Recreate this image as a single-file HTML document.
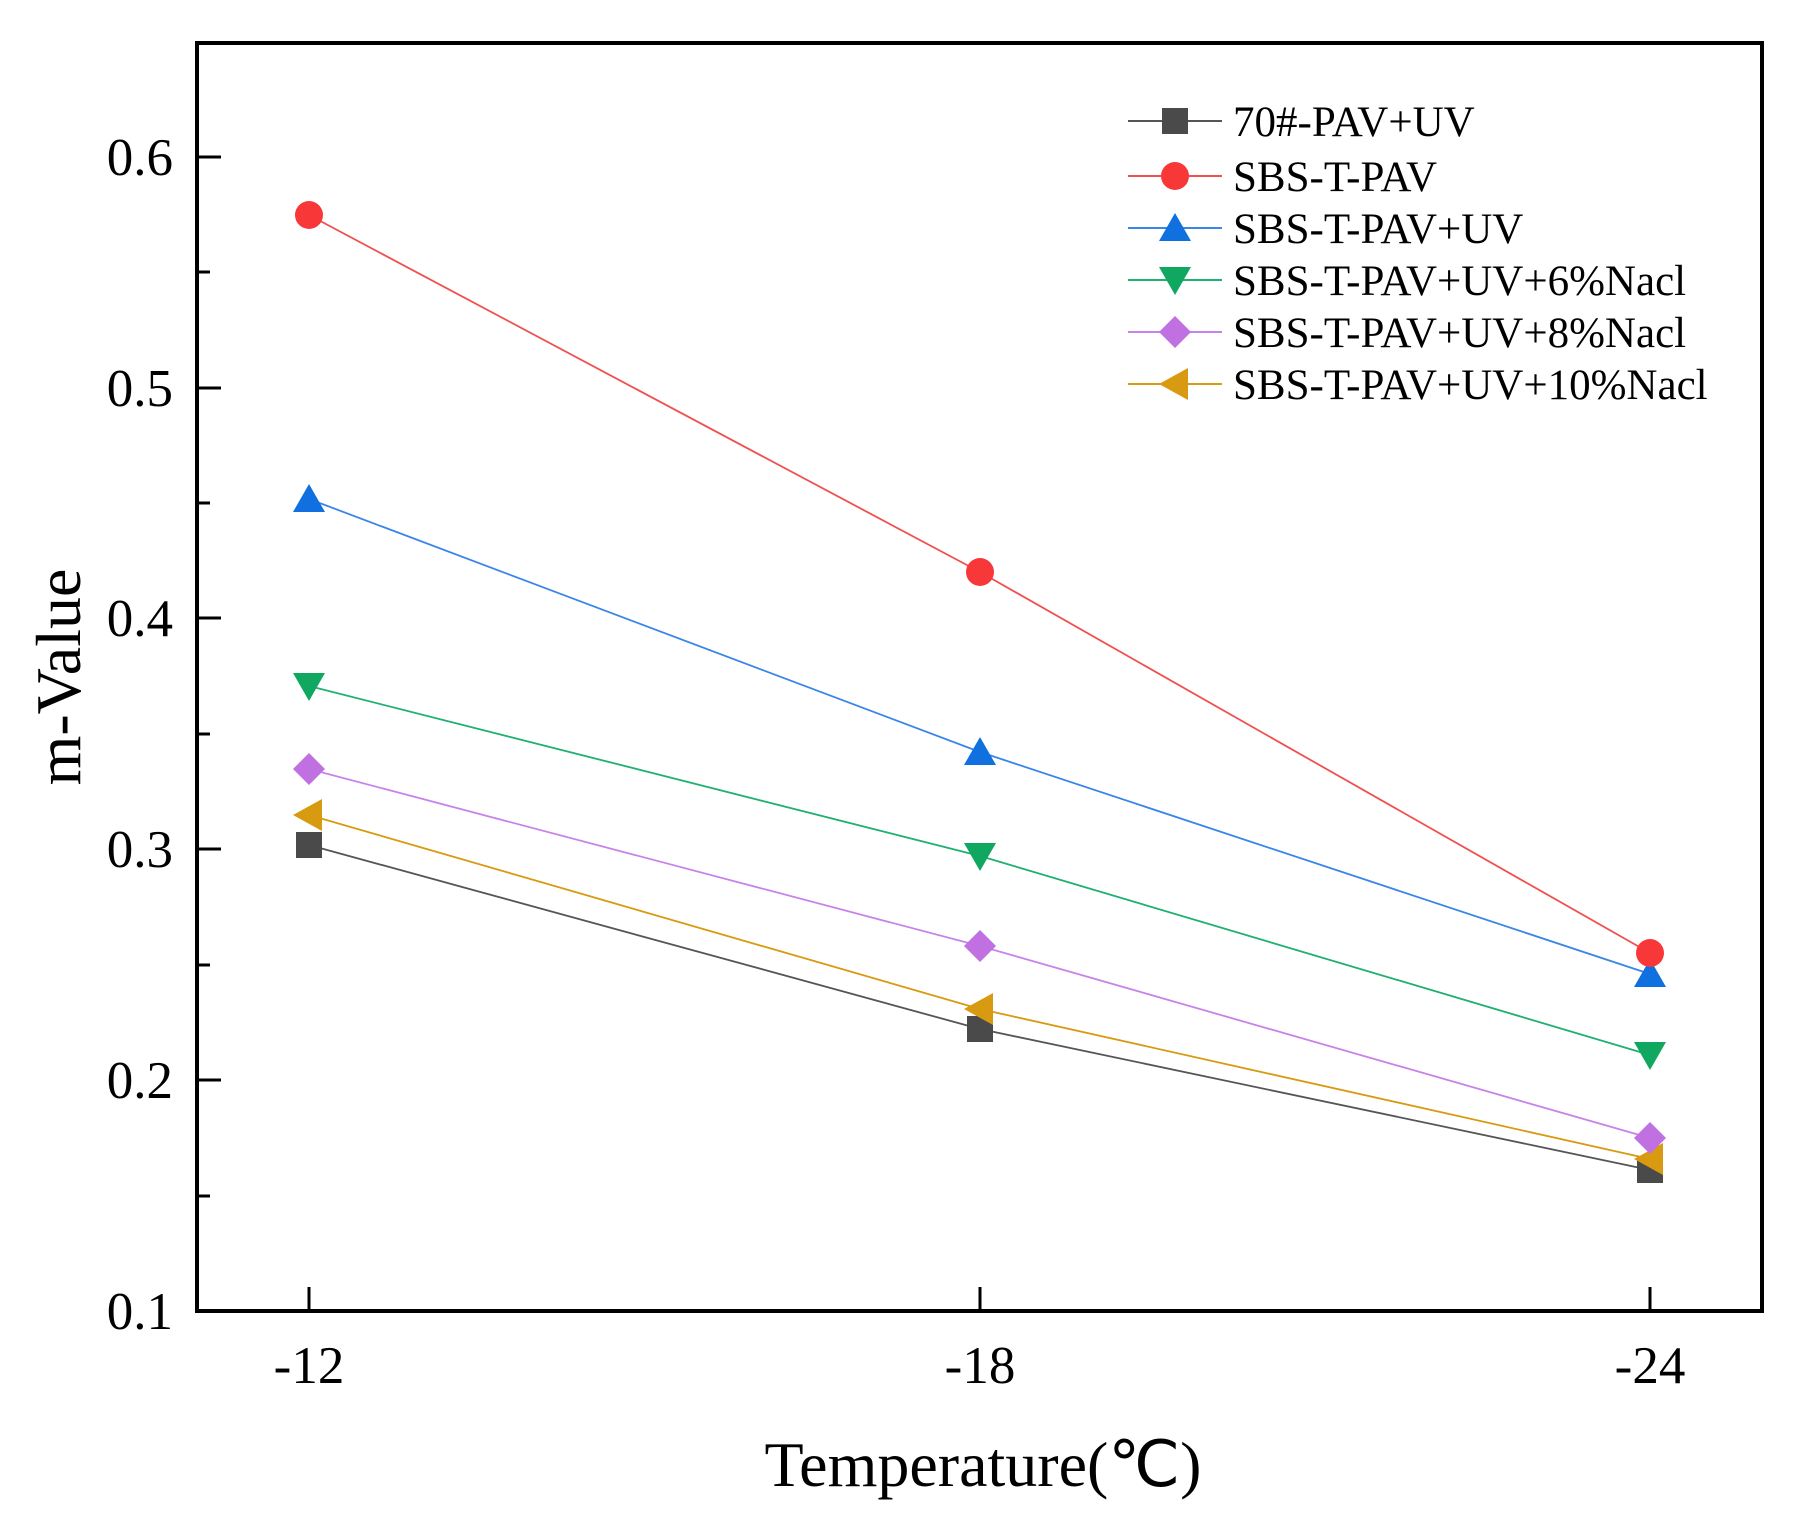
<!DOCTYPE html>
<html><head><meta charset="utf-8"><style>body{margin:0;background:#fff}svg{display:block}</style></head><body>
<svg width="1805" height="1536" viewBox="0 0 1805 1536" xmlns="http://www.w3.org/2000/svg" font-family="Liberation Serif, serif">
<defs>
<g id="sq"><rect x="-13" y="-13" width="26" height="26"/></g>
<g id="ci"><circle r="14"/></g>
<g id="tu"><polygon points="0,-15 16,13 -16,13"/></g>
<g id="td"><polygon points="0,15 16,-13 -16,-13"/></g>
<g id="di"><polygon points="0,-16 16,0 0,16 -16,0"/></g>
<g id="tl"><polygon points="-16,0 13,-16 13,16"/></g>
</defs>
<rect x="197" y="43" width="1565" height="1268" fill="none" stroke="#000" stroke-width="4"/>
<g stroke="#000" stroke-width="3">
<line x1="197" y1="1311" x2="221" y2="1311"/><line x1="197" y1="1080" x2="221" y2="1080"/><line x1="197" y1="849" x2="221" y2="849"/><line x1="197" y1="618" x2="221" y2="618"/><line x1="197" y1="388" x2="221" y2="388"/><line x1="197" y1="157" x2="221" y2="157"/>
<line x1="197" y1="1196" x2="210" y2="1196"/><line x1="197" y1="965" x2="210" y2="965"/><line x1="197" y1="734" x2="210" y2="734"/><line x1="197" y1="503" x2="210" y2="503"/><line x1="197" y1="272" x2="210" y2="272"/>
<line x1="309" y1="1311" x2="309" y2="1287"/><line x1="980" y1="1311" x2="980" y2="1287"/><line x1="1650" y1="1311" x2="1650" y2="1287"/>
</g>
<g font-size="53" text-anchor="end">
<text x="173" y="1329">0.1</text><text x="173" y="1098">0.2</text><text x="173" y="867">0.3</text><text x="173" y="636">0.4</text><text x="173" y="406">0.5</text><text x="173" y="175">0.6</text>
</g>
<g font-size="53" text-anchor="middle">
<text x="309" y="1383">-12</text><text x="980" y="1383">-18</text><text x="1650" y="1383">-24</text>
</g>
<text x="983" y="1486" font-size="64" text-anchor="middle">Temperature(℃)</text>
<text transform="translate(80,677) rotate(-90)" font-size="64" text-anchor="middle">m-Value</text>
<g fill="none" stroke-width="1.8">
<polyline stroke="#555" points="309,845 980,1029 1650,1170"/>
<polyline stroke="#f05050" points="309,215 980,572 1650,953"/>
<polyline stroke="#3a86e8" points="309,499 980,752 1650,974"/>
<polyline stroke="#20b070" points="309,686 980,856 1650,1055"/>
<polyline stroke="#c883e8" points="309,769 980,946 1650,1138"/>
<polyline stroke="#d89a10" points="309,815 980,1009 1650,1159"/>
</g>
<g fill="#4a4a4a"><use href="#sq" x="309" y="845"/><use href="#sq" x="980" y="1029"/><use href="#sq" x="1650" y="1170"/></g>
<g fill="#d89a10"><use href="#tl" x="309" y="815"/><use href="#tl" x="980" y="1009"/><use href="#tl" x="1650" y="1159"/></g>
<g fill="#c070e0"><use href="#di" x="309" y="769"/><use href="#di" x="980" y="946"/><use href="#di" x="1650" y="1138"/></g>
<g fill="#10a860"><use href="#td" x="309" y="686"/><use href="#td" x="980" y="856"/><use href="#td" x="1650" y="1055"/></g>
<g fill="#1070e0"><use href="#tu" x="309" y="499"/><use href="#tu" x="980" y="752"/><use href="#tu" x="1650" y="974"/></g>
<g fill="#f83838"><use href="#ci" x="309" y="215"/><use href="#ci" x="980" y="572"/><use href="#ci" x="1650" y="953"/></g>
<g stroke-width="2">
<line x1="1128" y1="121" x2="1222" y2="121" stroke="#555"/><use href="#sq" x="1175" y="121" fill="#4a4a4a"/>
<line x1="1128" y1="176" x2="1222" y2="176" stroke="#f05050"/><use href="#ci" x="1175" y="176" fill="#f83838"/>
<line x1="1128" y1="228" x2="1222" y2="228" stroke="#3a86e8"/><use href="#tu" x="1175" y="228" fill="#1070e0"/>
<line x1="1128" y1="280" x2="1222" y2="280" stroke="#20b070"/><use href="#td" x="1175" y="280" fill="#10a860"/>
<line x1="1128" y1="332" x2="1222" y2="332" stroke="#c883e8"/><use href="#di" x="1175" y="332" fill="#c070e0"/>
<line x1="1128" y1="384" x2="1222" y2="384" stroke="#d89a10"/><use href="#tl" x="1175" y="384" fill="#d89a10"/>
</g>
<g font-size="43">
<text x="1233" y="136">70#-PAV+UV</text>
<text x="1233" y="191">SBS-T-PAV</text>
<text x="1233" y="243">SBS-T-PAV+UV</text>
<text x="1233" y="295">SBS-T-PAV+UV+6%Nacl</text>
<text x="1233" y="347">SBS-T-PAV+UV+8%Nacl</text>
<text x="1233" y="399">SBS-T-PAV+UV+10%Nacl</text>
</g>
</svg>
</body></html>
